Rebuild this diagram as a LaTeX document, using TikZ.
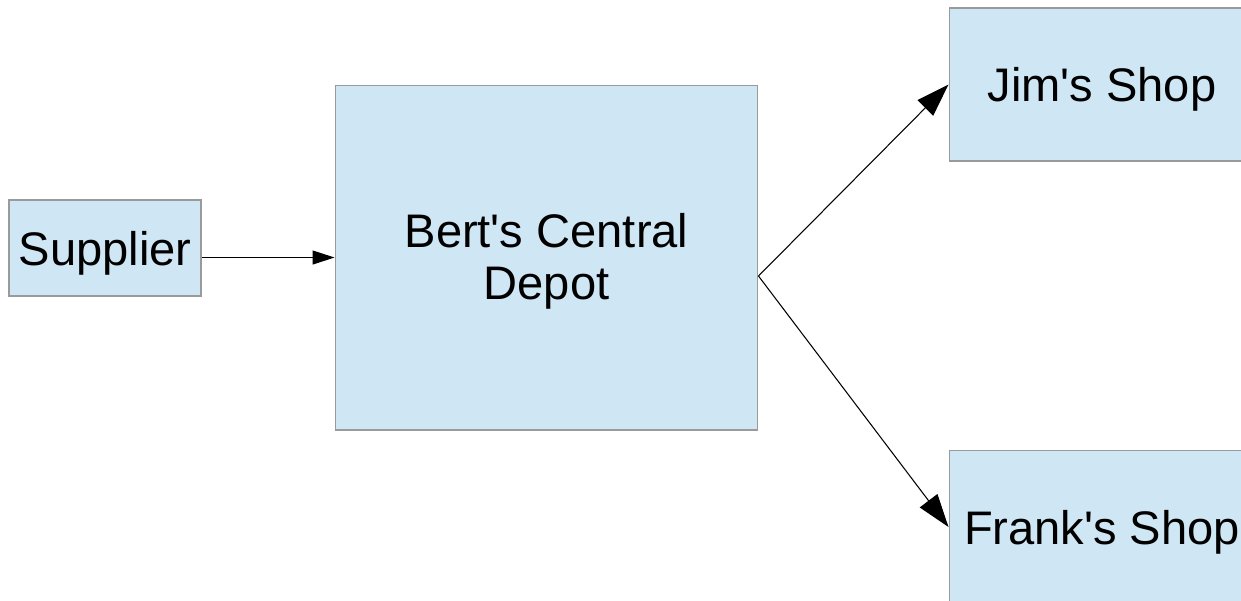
\documentclass[tikz,border=0pt]{standalone}
\usepackage{fontspec}
\setmainfont{Liberation Sans}
\usetikzlibrary{arrows.meta}
\definecolor{cajafondo}{HTML}{CFE6F4}
\definecolor{cajaborde}{HTML}{9A9A9A}
\newcommand{\apos}{\textquotesingle}
\tikzset{
    caja/.style={draw=cajaborde, fill=cajafondo, line width=0.6pt, inner sep=0pt,
        align=center, font=\fontsize{26.8}{29.6}\selectfont},
    unalinea/.style={caja, text depth=0pt},
    flecha/.style={-{Triangle[length=0.66cm, width=0.44cm]}, line width=0.6pt},
    flechita/.style={-{Triangle[length=0.44cm, width=0.28cm]}, line width=0.6pt}
}
\begin{document}
\begin{tikzpicture}[x=0.02cm, y=-0.02cm]
    \useasboundingbox (0,0) rectangle (1241,600);
    \clip (0,0) rectangle (1241,600);
    % Proveedor
    \node[unalinea, minimum width=3.84cm, minimum height=1.92cm] (supplier) at (105,248) {Supplier};
    % Deposito central
    \node[caja, minimum width=8.46cm, minimum height=6.9cm] (depot) at (546.5,257.5) {\rule{0pt}{0.84cm}Bert\apos s Central\\Depot};
    % Tiendas
    \node[unalinea, minimum width=6.12cm, minimum height=3.06cm] (jim) at (1102,84.5) {Jim\apos s Shop};
    \node[unalinea, minimum width=6.12cm, minimum height=3.08cm] (frank) at (1102,527) {Frank\apos s Shop};
    % Punto de salida del deposito
    \coordinate (fork) at ([yshift=-0.37cm]depot.east);
    % Flechas
    \draw[flechita] (supplier.east |- depot.west) -- (depot.west);
    \draw[flecha] (fork) -- (jim.west);
    \draw[flecha] (fork) -- (frank.west);
\end{tikzpicture}
\end{document}
